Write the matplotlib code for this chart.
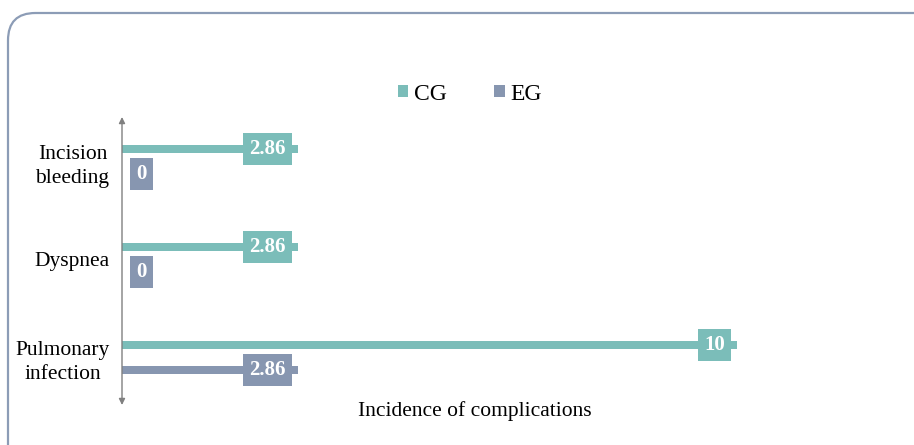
import numpy as np
import matplotlib
matplotlib.use("Agg")
import matplotlib.pyplot as plt
from matplotlib.patches import Patch, FancyBboxPatch

# data
categories = ["Incision\nbleeding", "Dyspnea", "Pulmonary\ninfection"]
cg_values = [2.86, 2.86, 10]
eg_values = [0, 0, 2.86]
series_names = ["CG", "EG"]

color_cg = "#7BBDB9"
color_eg = "#8796B0"
color_axis = "#808080"

plt.rcParams['font.family'] = ['Liberation Serif', 'DejaVu Serif']

fig = plt.figure(figsize=(9.14, 4.45), dpi=100)

# rounded border around the chart area
frame = FancyBboxPatch((8 / 914, -0.2), 1.2, 1.2 - 13 / 445,
                       boxstyle="round,pad=0,rounding_size=0.03",
                       transform=fig.transFigure, facecolor="none",
                       edgecolor="#8C9CB6", linewidth=1.6, mutation_aspect=914 / 445,
                       zorder=-1)
fig.patches.append(frame)

ax = fig.add_axes([122 / 914, 1 - 405 / 445, 768.75 / 914, 288 / 445])
ax.set_facecolor("none")

y = np.arange(len(categories))
off = 0.128
h = 0.08
ax.barh(y - off, cg_values, height=h, color=color_cg, linewidth=0, label=series_names[0])
ax.barh(y + off, eg_values, height=h, color=color_eg, linewidth=0, label=series_names[1])

ax.set_xlim(0, 12.5)
ax.set_ylim(2.485, -0.454)

for vals, yy, col in [(cg_values, y - off, color_cg), (eg_values, y + off, color_eg)]:
    for v, yv in zip(vals, yy):
        txt = "%g" % v
        if v == 0:
            ha, dx = "left", 10.3
        else:
            ha, dx = "right", -8.8
        ax.annotate(txt, xy=(v, yv), xytext=(dx, 0), textcoords="offset points",
                    ha=ha, va="center", color="white", fontsize=15, fontweight="bold",
                    bbox=dict(boxstyle="square,pad=0.3", facecolor=col, edgecolor="none"))

for s in ax.spines.values():
    s.set_visible(False)
ax.set_xticks([])
ax.set_yticks(y)
ax.set_yticklabels(categories, fontsize=15.5, multialignment="center", linespacing=1.35)
ax.tick_params(axis="y", length=0, pad=9)
for lab in ax.get_yticklabels():
    lab.set_y(lab.get_position()[1])

# vertical axis with arrow heads at both ends
ax.annotate("", xy=(0, 1), xytext=(0, 0), xycoords="axes fraction",
            arrowprops=dict(arrowstyle="<|-|>", color=color_axis, lw=1.0,
                            mutation_scale=9, shrinkA=0, shrinkB=0))

ax.set_xlabel("Incidence of complications", fontsize=15.5, va="center")
ax.xaxis.set_label_coords(0.459, -0.021)

handles = [Patch(facecolor=color_cg, edgecolor="none"), Patch(facecolor=color_eg, edgecolor="none")]
fig.legend(handles, series_names, loc="center", bbox_to_anchor=(470 / 914, 1 - 94 / 445),
           ncol=2, frameon=False, fontsize=17, handlelength=0.45, handleheight=0.45,
           handletextpad=0.25, columnspacing=2.0)

plt.savefig("out.png", dpi=100)
